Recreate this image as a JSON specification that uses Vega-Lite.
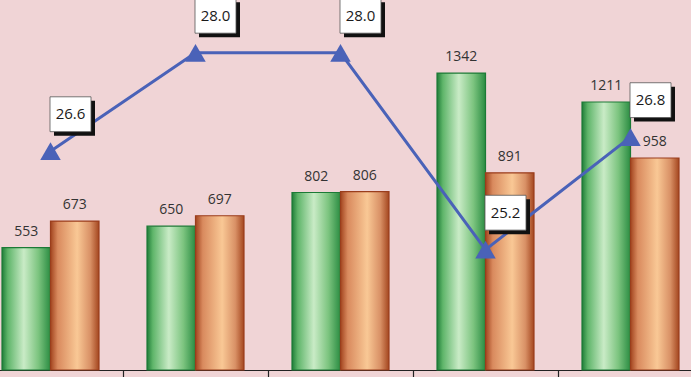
{
  "$schema": "https://vega.github.io/schema/vega-lite/v6.json",
  "width": 691,
  "height": 370,
  "autosize": "none",
  "padding": {"left": 0, "top": 0, "right": 0, "bottom": 7},
  "background": "#f0d4d6",
  "view": {"stroke": null},
  "config": {"font": "Open Sans"},
  "datasets": {
    "bars": [
      {"cat": "1", "series": "A", "value": 553},
      {"cat": "1", "series": "B", "value": 673},
      {"cat": "2", "series": "A", "value": 650},
      {"cat": "2", "series": "B", "value": 697},
      {"cat": "3", "series": "A", "value": 802},
      {"cat": "3", "series": "B", "value": 806},
      {"cat": "4", "series": "A", "value": 1342},
      {"cat": "4", "series": "B", "value": 891},
      {"cat": "5", "series": "A", "value": 1211},
      {"cat": "5", "series": "B", "value": 958}
    ],
    "rate": [
      {"cat": "1", "rate": 26.6},
      {"cat": "2", "rate": 28.0},
      {"cat": "3", "rate": 28.0},
      {"cat": "4", "rate": 25.2},
      {"cat": "5", "rate": 26.8}
    ]
  },
  "resolve": {"scale": {"y": "independent"}},
  "layer": [
    {
      "data": {"name": "bars"},
      "transform": [{"filter": "datum.series === 'A'"}],
      "mark": {
        "type": "bar",
        "stroke": "#1c7a36",
        "strokeWidth": 1.2,
        "color": {
          "gradient": "linear", "x1": 0, "x2": 1, "y1": 0, "y2": 0,
          "stops": [
            {"offset": 0, "color": "#1f7d38"},
            {"offset": 0.12, "color": "#5fb56a"},
            {"offset": 0.45, "color": "#c9ebc6"},
            {"offset": 0.75, "color": "#7cc47f"},
            {"offset": 1, "color": "#2a8c42"}
          ]
        }
      },
      "encoding": {
        "x": {"field": "cat", "type": "nominal", "scale": {"range": [-22, 703], "paddingInner": 0, "paddingOuter": 0},
              "axis": {"labels": false, "title": null, "grid": false, "domainColor": "#222", "tickColor": "#222", "tickBand": "extent", "tickSize": 7, "domainWidth": 1.2, "tickWidth": 1.2}},
        "xOffset": {"field": "series", "type": "nominal", "scale": {"domain": ["A", "B"], "paddingInner": 0, "paddingOuter": 0.495}},
        "y": {"field": "value", "type": "quantitative", "scale": {"domain": [0, 1672]}, "axis": null}
      }
    },
    {
      "data": {"name": "bars"},
      "transform": [{"filter": "datum.series === 'B'"}],
      "mark": {
        "type": "bar",
        "stroke": "#9a3d1c",
        "strokeWidth": 1.2,
        "color": {
          "gradient": "linear", "x1": 0, "x2": 1, "y1": 0, "y2": 0,
          "stops": [
            {"offset": 0, "color": "#a2441f"},
            {"offset": 0.15, "color": "#d98a5e"},
            {"offset": 0.55, "color": "#f9c895"},
            {"offset": 0.82, "color": "#d99166"},
            {"offset": 1, "color": "#a4461f"}
          ]
        }
      },
      "encoding": {
        "x": {"field": "cat", "type": "nominal"},
        "xOffset": {"field": "series", "type": "nominal", "scale": {"domain": ["A", "B"], "paddingInner": 0, "paddingOuter": 0.495}},
        "y": {"field": "value", "type": "quantitative", "scale": {"domain": [0, 1672]}, "axis": null}
      }
    },
    {
      "data": {"name": "bars"},
      "mark": {"type": "text", "baseline": "middle", "dy": -16, "fontSize": 14, "color": "#333333"},
      "encoding": {
        "x": {"field": "cat", "type": "nominal"},
        "xOffset": {"field": "series", "type": "nominal", "scale": {"domain": ["A", "B"], "paddingInner": 0, "paddingOuter": 0.495}},
        "y": {"field": "value", "type": "quantitative", "scale": {"domain": [0, 1672]}, "axis": null},
        "text": {"field": "value", "type": "quantitative"}
      }
    },
    {
      "data": {"name": "rate"},
      "mark": {"type": "line", "color": "#4a62b8", "strokeWidth": 3},
      "encoding": {
        "x": {"field": "cat", "type": "nominal"},
        "y": {"field": "rate", "type": "quantitative", "scale": {"domain": [23.49, 28.75], "zero": false}, "axis": null}
      }
    },
    {
      "data": {"name": "rate"},
      "mark": {"type": "point", "shape": "triangle-up", "filled": true, "opacity": 1, "size": 420, "color": "#4a62b8"},
      "encoding": {
        "x": {"field": "cat", "type": "nominal"},
        "y": {"field": "rate", "type": "quantitative", "scale": {"domain": [23.49, 28.75], "zero": false}, "axis": null}
      }
    },
    {
      "data": {"name": "rate"},
      "mark": {"type": "point", "shape": "M-1,-0.85L1,-0.85L1,0.85L-1,0.85Z", "filled": true, "opacity": 1, "size": 1681, "color": "#111111", "xOffset": 24, "yOffset": -33},
      "encoding": {
        "x": {"field": "cat", "type": "nominal"},
        "y": {"field": "rate", "type": "quantitative", "scale": {"domain": [23.49, 28.75], "zero": false}, "axis": null}
      }
    },
    {
      "data": {"name": "rate"},
      "mark": {"type": "point", "shape": "M-1,-0.85L1,-0.85L1,0.85L-1,0.85Z", "filled": true, "opacity": 1, "size": 1681, "fill": "#ffffff", "stroke": "#555555", "strokeWidth": 0.8, "xOffset": 20, "yOffset": -37},
      "encoding": {
        "x": {"field": "cat", "type": "nominal"},
        "y": {"field": "rate", "type": "quantitative", "scale": {"domain": [23.49, 28.75], "zero": false}, "axis": null}
      }
    },
    {
      "data": {"name": "rate"},
      "mark": {"type": "text", "baseline": "middle", "align": "center", "fontSize": 15, "color": "#1a1a1a", "dx": 20, "dy": -37},
      "encoding": {
        "x": {"field": "cat", "type": "nominal"},
        "y": {"field": "rate", "type": "quantitative", "scale": {"domain": [23.49, 28.75], "zero": false}, "axis": null},
        "text": {"field": "rate", "type": "quantitative", "format": ".1f"}
      }
    }
  ]
}
